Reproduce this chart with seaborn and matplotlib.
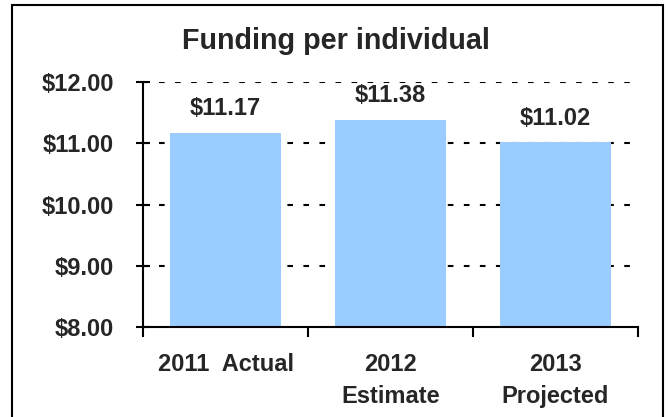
import matplotlib
matplotlib.use("Agg")
import matplotlib.pyplot as plt
import seaborn as sns
import pandas as pd
from matplotlib.patches import Rectangle
from matplotlib.ticker import FixedLocator, NullFormatter

categories = ["2011  Actual", "2012\nEstimate", "2013\nProjected"]
values = [11.17, 11.38, 11.02]
value_labels = ["$11.17", "$11.38", "$11.02"]
yticks = [8, 9, 10, 11, 12]
ytick_labels = ["$8.00", "$9.00", "$10.00", "$11.00", "$12.00"]
title = "Funding per individual"

sns.set_theme(style="white")
plt.rcParams['font.family'] = ['Liberation Sans', 'DejaVu Sans']

df = pd.DataFrame({"cat": categories, "val": values})

fig = plt.figure(figsize=(6.68, 4.17), dpi=100)
ax = fig.add_axes([143/668, 1-327/417, (638-143)/668, (327-82)/417])

sns.barplot(data=df, x="cat", y="val", color="#99CCFF", saturation=1,
            width=0.667, ax=ax, zorder=2, edgecolor="none")

ax.set_ylim(8, 12)
ax.set_xlim(-0.5, 2.5)
ax.set_yticks(yticks)
ax.set_yticklabels(ytick_labels, fontsize=17, fontweight="bold")
for y in yticks[1:]:
    ax.axhline(y, color="black", lw=1.5, ls=(0, (2.7, 5)), zorder=1)

ax.xaxis.set_major_locator(FixedLocator([-0.5, 0.5, 1.5, 2.5]))
ax.xaxis.set_major_formatter(NullFormatter())
ax.xaxis.set_minor_locator(FixedLocator([0, 1, 2]))
ax.set_xticklabels(categories, minor=True, fontsize=17, fontweight="bold",
                   linespacing=1.5)
ax.tick_params(axis="x", which="major", direction="out", length=7, width=1.5,
               color="black", bottom=True)
ax.tick_params(axis="x", which="minor", length=0, pad=19, bottom=True)
ax.tick_params(axis="y", direction="inout", length=10, width=1.5, color="black",
               left=True, pad=16)
for lab in ax.get_xticklabels(minor=True):
    lab.set_verticalalignment("top")

ax.set_xlabel("")
ax.set_ylabel("")
for s in ["top", "right"]:
    ax.spines[s].set_visible(False)
for s in ["left", "bottom"]:
    ax.spines[s].set_color("black")
    ax.spines[s].set_linewidth(1.5)

for i, (v, t) in enumerate(zip(values, value_labels)):
    ax.annotate(t, (i, v), xytext=(0, 9), textcoords="offset points",
                ha="center", va="bottom", fontsize=17, fontweight="bold")

fig.text((183+489)/2/668, 1-41/417, title, ha="center", va="center",
         fontsize=20.7, fontweight="bold")

fig.patches.append(Rectangle((12/668, -0.05), (663-12)/668, 1.05-5.5/417,
                             transform=fig.transFigure, fill=False,
                             edgecolor="black", lw=1.5, zorder=10))

fig.savefig("out.png", dpi=100)
